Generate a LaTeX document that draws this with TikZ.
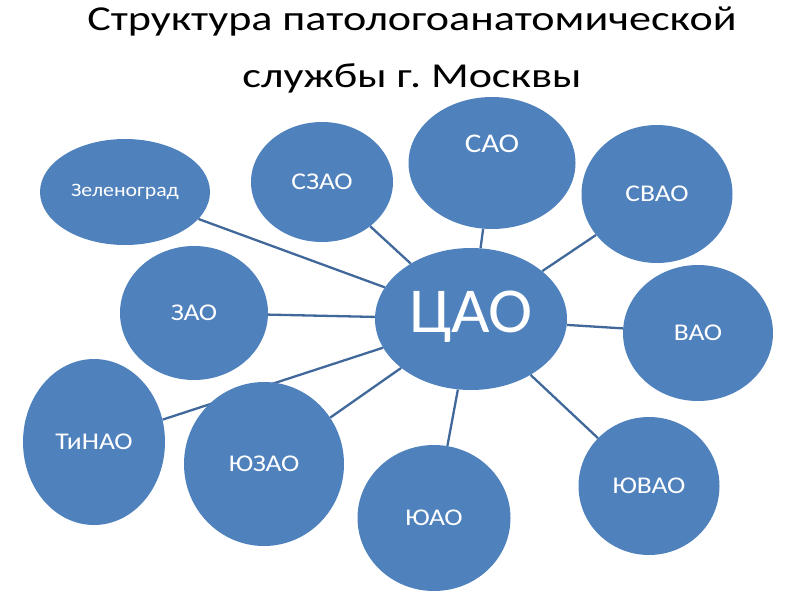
\documentclass[tikz,border=0pt]{standalone}
\usepackage{graphicx}
\usepackage{fontspec}
\setmainfont{Carlito}
\usetikzlibrary{shapes.geometric}
\usetikzlibrary{backgrounds}
\definecolor{okrug}{HTML}{4F81BD}
\definecolor{svyaz}{HTML}{41689A}
\newcommand{\shirok}[2][1.15]{\scalebox{#1}[1]{#2}}
\frenchspacing

\begin{document}
\begin{tikzpicture}[x=1pt, y=-1pt,
  okr/.style={ellipse, fill=okrug, text=white, inner sep=0pt,
    font=\fontsize{24}{28}\selectfont},
  lnk/.style={draw=svyaz, line width=2.3pt}]
\useasboundingbox (0,0) rectangle (800,600);

\node (title) at (412,50) [align=center, inner sep=0pt,
  font=\fontsize{35}{57}\selectfont]
  {\shirok[1.26]{Структура патологоанатомической}\\\shirok[1.26]{службы г. Москвы}};

\node (TsAO) at (471,319) [okr, minimum width=192pt, minimum height=142pt,
  font=\fontsize{64}{70}\selectfont] {\raisebox{14pt}{\shirok[1.04]{ЦАО}}};

\node (Zel)   at (125,192) [okr, minimum width=170pt, minimum height=106pt,
  font=\fontsize{19}{22}\selectfont] {\shirok{Зеленоград}};
\node (SZAO)  at (322,182) [okr, minimum width=142pt, minimum height=120pt] {\shirok{СЗАО}};
\node (SAO)   at (492,163) [okr, minimum width=167pt, minimum height=132pt,
  font=\fontsize{27}{30}\selectfont] {\raisebox{38pt}{\shirok{САО}}};
\node (SVAO)  at (657,194) [okr, minimum width=151pt, minimum height=138pt] {\shirok{СВАО}};
\node (ZAO)   at (194,313) [okr, minimum width=148pt, minimum height=134pt] {\shirok{ЗАО}};
\node (VAO)   at (698,333) [okr, minimum width=150pt, minimum height=136pt] {\shirok{ВАО}};
\node (TiNAO) at (94,442)  [okr, minimum width=142pt, minimum height=166pt] {\shirok{ТиНАО}};
\node (YuZAO) at (264,464) [okr, minimum width=160pt, minimum height=164pt] {\shirok{ЮЗАО}};
\node (YuAO)  at (434,518) [okr, minimum width=153pt, minimum height=146pt] {\shirok{ЮАО}};
\node (YuVAO) at (649,486) [okr, minimum width=141pt, minimum height=138pt] {\shirok{ЮВАО}};

\begin{scope}[on background layer]
\draw[lnk] (TsAO) -- (Zel);
\draw[lnk] (TsAO) -- (SZAO);
\draw[lnk] (TsAO) -- (SAO);
\draw[lnk] (TsAO) -- (SVAO);
\draw[lnk] (TsAO) -- (ZAO);
\draw[lnk] (TsAO) -- (VAO);
\draw[lnk] (TsAO) -- (TiNAO);
\draw[lnk] (TsAO) -- (YuZAO);
\draw[lnk] (TsAO) -- (YuAO);
\draw[lnk] (TsAO) -- (YuVAO);
\end{scope}
\end{tikzpicture}
\end{document}
